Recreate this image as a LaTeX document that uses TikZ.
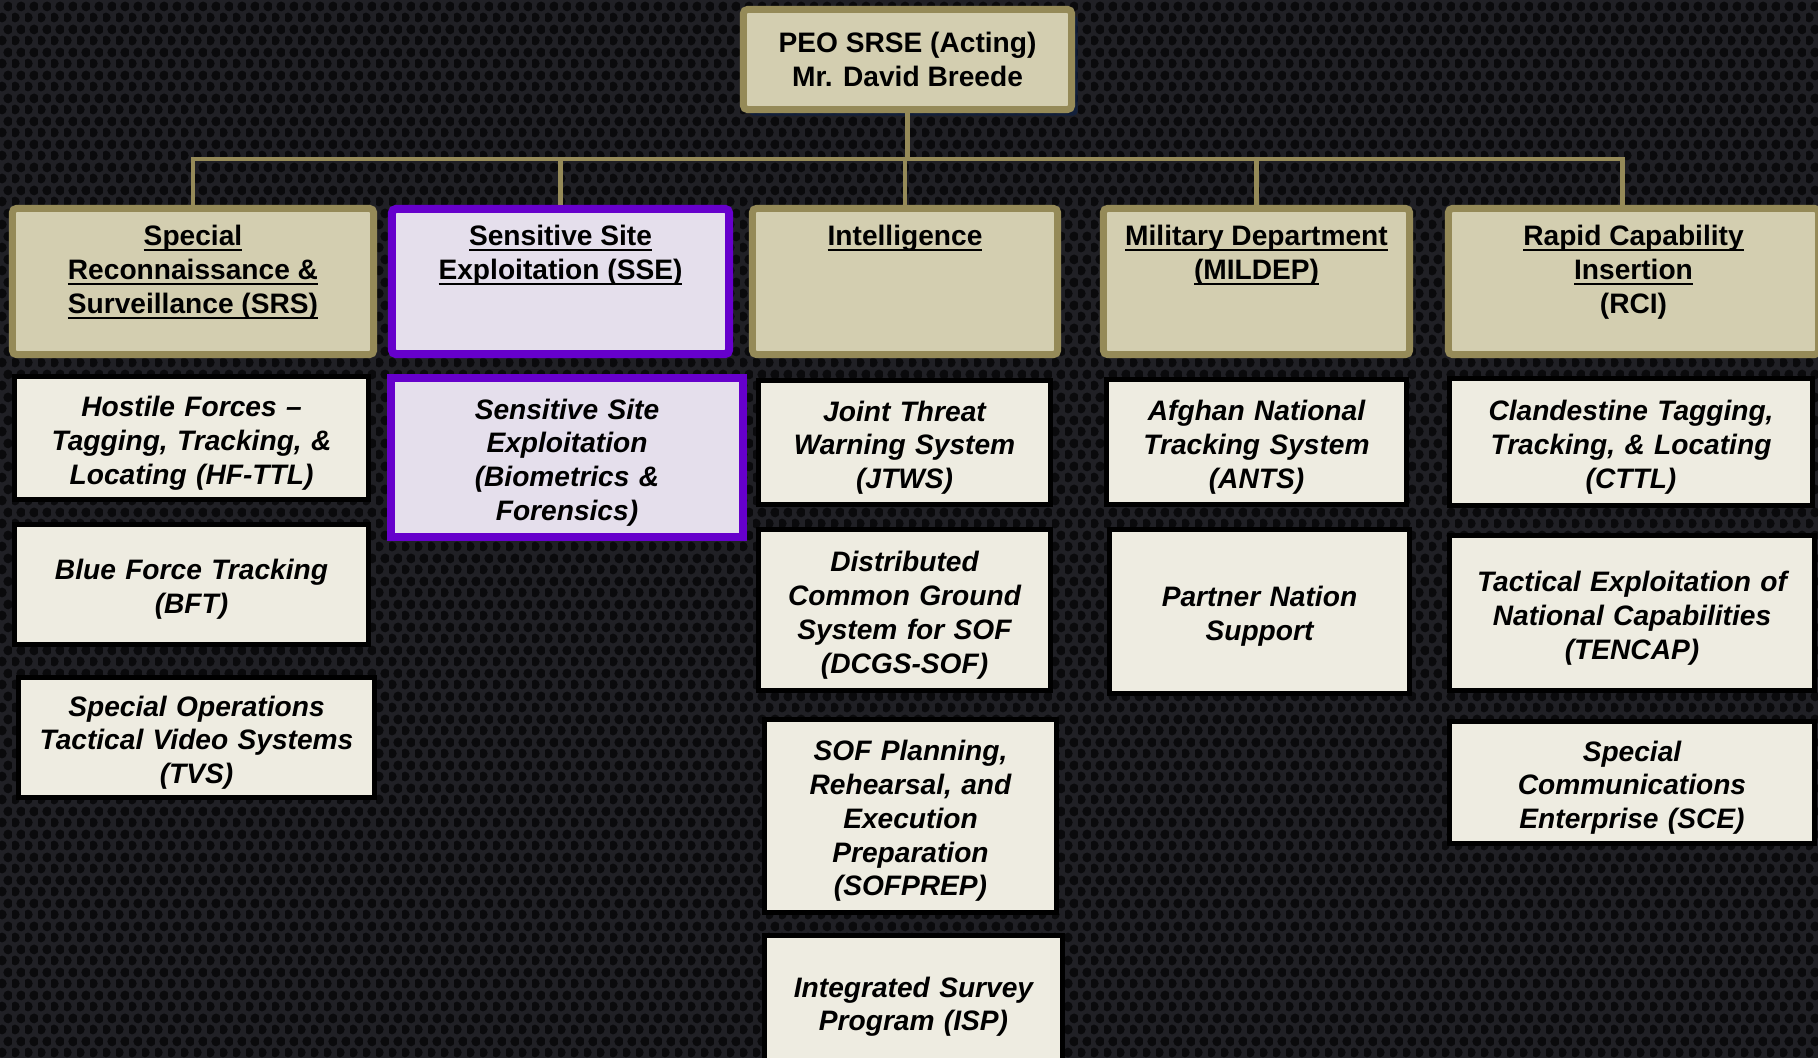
\documentclass[tikz,border=0pt]{standalone}
\usepackage{fontspec}
\setmainfont{Liberation Sans}
\usepackage{xcolor}
\usetikzlibrary{shadows,patterns}

\definecolor{meshgray}{RGB}{32,32,37}
\definecolor{holeblack}{RGB}{10,10,12}
\definecolor{tanfill}{RGB}{211,206,176}
\definecolor{tanline}{RGB}{149,138,88}
\definecolor{subfill}{RGB}{238,236,225}
\definecolor{ssefill}{RGB}{229,223,236}
\definecolor{ssepurple}{RGB}{102,0,204}
\definecolor{glowblue}{RGB}{16,32,64}

% lưới tổ ong của nền
\pgfdeclarepatternformonly{hexholes}{\pgfpointorigin}{\pgfpoint{0.13cm}{0.225cm}}%
  {\pgfpoint{0.13cm}{0.225cm}}{%
  \pgfpathcircle{\pgfpoint{0.0325cm}{0.056cm}}{0.05cm}%
  \pgfpathcircle{\pgfpoint{0.0975cm}{0.169cm}}{0.05cm}%
  \pgfusepath{fill}}

% gạch chân tiêu đề
\newcommand{\hdul}[1]{\leavevmode\setbox0=\hbox{#1}\rlap{\rule[-1.55pt]{\wd0}{0.65pt}}\box0}
% header text sits at the top of its box
\newcommand{\headtext}[1]{\parbox[c][1.12cm][t]{2.9cm}{\centering #1}}

\begin{document}
\begin{tikzpicture}[x=0.01cm, y=-0.01cm,
  head/.style={draw=tanline, fill=tanfill, line width=0.07cm, rounded corners=0.04cm,
    inner sep=0pt, minimum height=1.46cm, font=\fontsize{8}{9.6}\selectfont\bfseries},
  sub/.style={draw=black, fill=subfill, line width=0.05cm, inner sep=0pt, align=center,
    minimum width=#1, text width=#1, execute at begin node={\rule{0pt}{8.7pt}},
    font=\fontsize{8}{9.6}\selectfont\bfseries\itshape},
  ssebox/.style={draw=ssepurple, fill=ssefill, line width=0.08cm},
  conn/.style={draw=tanline, line width=0.045cm}]
			% Nền
			\fill[meshgray] (0,0) rectangle (1818,1058);
			\fill[pattern=hexholes, pattern color=holeblack] (0,0) rectangle (1818,1058);
			\useasboundingbox (0,0) rectangle (1818,1058);
			% Hộp trên cùng
			\node[head, align=center, minimum width=3.28cm, minimum height=1.0cm,
			  drop shadow={fill=glowblue, opacity=0.8, shadow xshift=0.06cm, shadow yshift=-0.06cm}]
			  (peo) at (907.5,59.5) {PEO SRSE (Acting)\\ Mr. David Breede};
			% Hàng tiêu đề
			\node[head, minimum width=3.61cm] (srs) at (193,281.5)
			  {\headtext{\hdul{Special}\\ \hdul{Reconnaissance \&}\\ \hdul{Surveillance (SRS)}}};
			\node[head, ssebox, minimum width=3.37cm, minimum height=1.45cm] (sse) at (560.5,281.5)
			  {\headtext{\hdul{Sensitive Site}\\ \hdul{Exploitation (SSE)}}};
			\node[head, minimum width=3.05cm] (intel) at (905,281.5)
			  {\headtext{\hdul{Intelligence}}};
			\node[head, minimum width=3.06cm] (mildep) at (1256.5,281.5)
			  {\headtext{\hdul{Military Department}\\ \hdul{(MILDEP)}}};
			\node[head, minimum width=3.70cm] (rci) at (1633.5,281.5)
			  {\headtext{\hdul{Rapid Capability}\\ \hdul{Insertion}\\ (RCI)}};
			% Đường nối
			\coordinate (bus) at (0,159);
			\foreach \h in {srs,sse,intel,mildep}
			\draw[conn] (peo.south) -- (peo.south |- bus) -| (\h.north);
			\draw[conn] (peo.south) -- (peo.south |- bus) -| ([xshift=-0.11cm]rci.north);
			% Cột SRS
			\node[sub=3.54cm, minimum height=1.23cm] (hfttl) at (191.5,438)
			  {Hostile Forces –\\ Tagging, Tracking, \&\\ Locating (HF-TTL)};
			\node[sub=3.54cm, minimum height=1.20cm] (bft) at (191.5,584.5)
			  {Blue Force Tracking\\ (BFT)};
			\node[sub=3.56cm, minimum height=1.20cm] (tvs) at (196.5,737.5)
			  {Special Operations\\ Tactical Video Systems\\ (TVS)};
			% Cột SSE
			\node[sub=3.52cm, ssebox, minimum height=1.59cm] (ssebio) at (567,457.5)
			  {Sensitive Site\\ Exploitation\\ (Biometrics \&\\ Forensics)};
			% Cột Intelligence
			\node[sub=2.92cm, minimum height=1.24cm] (jtws) at (904.5,442.5)
			  {Joint Threat\\ Warning System\\ (JTWS)};
			\node[sub=2.92cm, minimum height=1.61cm] (dcgs) at (904.5,610)
			  {Distributed\\ Common Ground\\ System for SOF\\ (DCGS-SOF)};
			\node[sub=2.92cm, minimum height=1.93cm] (sofprep) at (910.5,816)
			  {SOF Planning,\\ Rehearsal, and\\ Execution\\ Preparation\\ (SOFPREP)};
			\node[sub=2.98cm, minimum height=1.32cm] (isp) at (913.5,1001.5)
			  {Integrated Survey\\ Program (ISP)};
			% Cột MILDEP
			\node[sub=3.00cm, minimum height=1.25cm] (ants) at (1256.5,442)
			  {Afghan National\\ Tracking System\\ (ANTS)};
			\node[sub=3.00cm, minimum height=1.64cm] (pns) at (1259.5,611.5)
			  {Partner Nation\\ Support};
			% Cột RCI
			\node[sub=3.63cm, minimum height=1.27cm] (cttl) at (1631,442)
			  {Clandestine Tagging,\\ Tracking, \& Locating\\ (CTTL)};
			\node[sub=3.65cm, minimum height=1.55cm] (tencap) at (1632,613)
			  {Tactical Exploitation of\\ National Capabilities\\ (TENCAP)};
			\node[sub=3.65cm, minimum height=1.22cm] (sce) at (1632,782.5)
			  {Special\\ Communications\\ Enterprise (SCE)};
		\end{tikzpicture}
\end{document}
